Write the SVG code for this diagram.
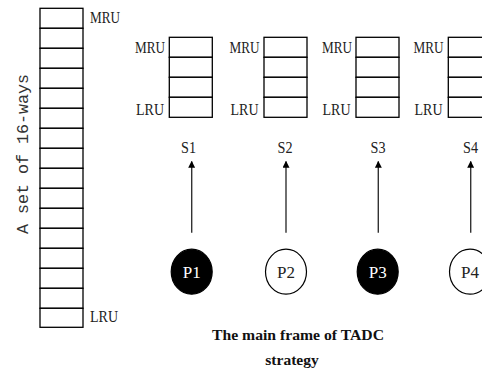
<svg xmlns="http://www.w3.org/2000/svg" width="482" height="369" viewBox="0 0 482 369">
  <style>
    .cell { fill: #fff; stroke: #000; stroke-width: 1.3; }
    .lbl { font-family: "Liberation Serif", serif; font-size: 17px; fill: #222; }
    .mono { font-family: "Liberation Mono", monospace; font-size: 16px; fill: #333; }
    .conn { stroke: #333; stroke-width: 1.4; fill: none; marker-end: url(#arrow); }
    .pfill { fill: #000; stroke: #000; stroke-width: 1.2; }
    .pempty { fill: #fff; stroke: #000; stroke-width: 1.2; }
    .cap { font-family: "Liberation Serif", serif; font-size: 15.5px; font-weight: bold; fill: #111; text-anchor: middle; }
  </style>
  <defs>
    <marker id="arrow" viewBox="0 0 10 10" refX="9" refY="5" markerWidth="7" markerHeight="7" markerUnits="userSpaceOnUse" orient="auto">
      <path d="M0,0 L10,5 L0,10 z" fill="#000"/>
    </marker>
    <!-- one 4-way cache set column -->
    <g id="set4">
      <rect class="cell" x="0" y="0" width="43" height="20"/>
      <rect class="cell" x="0" y="20" width="43" height="20"/>
      <rect class="cell" x="0" y="40" width="43" height="20"/>
      <rect class="cell" x="0" y="60" width="43" height="20"/>
    </g>
  </defs>

  <!-- 16-way set -->
  <g id="set16">
    <rect class="cell" x="40" y="8.3" width="43" height="20"/>
    <rect class="cell" x="40" y="28.3" width="43" height="20"/>
    <rect class="cell" x="40" y="48.3" width="43" height="20"/>
    <rect class="cell" x="40" y="68.3" width="43" height="20"/>
    <rect class="cell" x="40" y="88.3" width="43" height="20"/>
    <rect class="cell" x="40" y="108.3" width="43" height="20"/>
    <rect class="cell" x="40" y="128.3" width="43" height="20"/>
    <rect class="cell" x="40" y="148.3" width="43" height="20"/>
    <rect class="cell" x="40" y="168.3" width="43" height="20"/>
    <rect class="cell" x="40" y="188.3" width="43" height="20"/>
    <rect class="cell" x="40" y="208.3" width="43" height="20"/>
    <rect class="cell" x="40" y="228.3" width="43" height="20"/>
    <rect class="cell" x="40" y="248.3" width="43" height="20"/>
    <rect class="cell" x="40" y="268.3" width="43" height="20"/>
    <rect class="cell" x="40" y="288.3" width="43" height="20"/>
    <rect class="cell" x="40" y="308.3" width="43" height="19"/>
    <text class="lbl" x="90" y="23" textLength="30" lengthAdjust="spacingAndGlyphs">MRU</text>
    <text class="lbl" x="90" y="322" textLength="28" lengthAdjust="spacingAndGlyphs">LRU</text>
    <text class="mono" transform="translate(27.5,154) rotate(-90)" text-anchor="middle" textLength="160" lengthAdjust="spacingAndGlyphs">A set of 16-ways</text>
  </g>

  <!-- 4-way sets S1..S4 -->
  <g id="s1">
    <use href="#set4" x="169.3" y="37.3"/>
    <text class="lbl" x="135" y="53" textLength="30" lengthAdjust="spacingAndGlyphs">MRU</text>
    <text class="lbl" x="136" y="115" textLength="28" lengthAdjust="spacingAndGlyphs">LRU</text>
    <text class="lbl" x="188.5" y="153" text-anchor="middle" textLength="15" lengthAdjust="spacingAndGlyphs">S1</text>
  </g>
  <g id="s2">
    <use href="#set4" x="264" y="37.3"/>
    <text class="lbl" x="229.5" y="53" textLength="30" lengthAdjust="spacingAndGlyphs">MRU</text>
    <text class="lbl" x="230.5" y="115" textLength="28" lengthAdjust="spacingAndGlyphs">LRU</text>
    <text class="lbl" x="285" y="153" text-anchor="middle" textLength="15" lengthAdjust="spacingAndGlyphs">S2</text>
  </g>
  <g id="s3">
    <use href="#set4" x="356" y="37.3"/>
    <text class="lbl" x="322" y="53" textLength="30" lengthAdjust="spacingAndGlyphs">MRU</text>
    <text class="lbl" x="322.5" y="115" textLength="28" lengthAdjust="spacingAndGlyphs">LRU</text>
    <text class="lbl" x="378" y="153" text-anchor="middle" textLength="15" lengthAdjust="spacingAndGlyphs">S3</text>
  </g>
  <g id="s4">
    <use href="#set4" x="448.3" y="37.3"/>
    <text class="lbl" x="413.5" y="53" textLength="30" lengthAdjust="spacingAndGlyphs">MRU</text>
    <text class="lbl" x="414.5" y="115" textLength="28" lengthAdjust="spacingAndGlyphs">LRU</text>
    <text class="lbl" x="470.5" y="153" text-anchor="middle" textLength="15" lengthAdjust="spacingAndGlyphs">S4</text>
  </g>

  <!-- processors -->
  <g id="p1">
    <ellipse class="pfill" cx="191.7" cy="271.7" rx="20.5" ry="22.5"/>
    <text class="lbl" x="191.7" y="277.5" text-anchor="middle" style="fill:#fff">P1</text>
  </g>
  <g id="p2">
    <ellipse class="pempty" cx="286" cy="271.7" rx="20.5" ry="22.5"/>
    <text class="lbl" x="286" y="277.5" text-anchor="middle">P2</text>
  </g>
  <g id="p3">
    <ellipse class="pfill" cx="377.7" cy="271.7" rx="20.5" ry="22.5"/>
    <text class="lbl" x="377.7" y="277.5" text-anchor="middle" style="fill:#fff">P3</text>
  </g>
  <g id="p4">
    <ellipse class="pempty" cx="470" cy="271.7" rx="20.5" ry="22.5"/>
    <text class="lbl" x="470" y="277.5" text-anchor="middle">P4</text>
  </g>

  <!-- connectors: each processor points at its set -->
  <g id="connectors">
    <line class="conn" x1="191.7" y1="232.7" x2="191.7" y2="161.5"/>
    <line class="conn" x1="286" y1="232.7" x2="286" y2="161.5"/>
    <line class="conn" x1="378.3" y1="232.7" x2="378.3" y2="161.5"/>
    <line class="conn" x1="470.7" y1="232.7" x2="470.7" y2="161.5"/>
  </g>

  <!-- caption -->
  <g id="caption">
    <text class="cap" x="298" y="340" textLength="172" lengthAdjust="spacingAndGlyphs">The main frame of TADC</text>
    <text class="cap" x="292" y="365">strategy</text>
  </g>
</svg>
